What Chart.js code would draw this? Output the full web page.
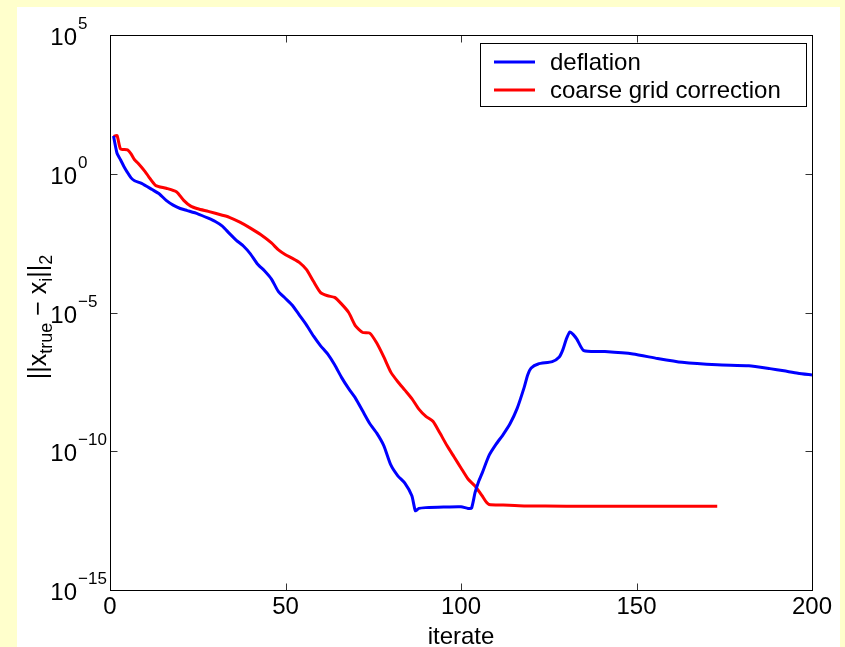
<!DOCTYPE html>
<html>
<head>
<meta charset="utf-8">
<script src="https://cdn.jsdelivr.net/npm/chart.js@4/dist/chart.umd.min.js"></script>
<style>
  html, body { margin: 0; padding: 0; background: #ffffcc; }
  #wrap { width: 845px; height: 647px; position: relative; }
</style>
</head>
<body>
<div id="wrap"><canvas id="c" width="845" height="647"></canvas></div>
<script>
// values (log y axis)
const deflationIter = [1, 2, 3, 4, 5, 6, 7, 9, 12, 14, 16, 18, 20, 22, 25, 28, 30, 32, 34, 36, 38, 40, 42, 44, 46, 48, 50, 52, 54, 56, 58, 60, 62, 64, 66, 68, 70, 72, 74, 76, 78, 80, 82, 84, 86, 87, 88, 90, 95, 100, 102, 103, 104, 105, 106, 108, 110, 112, 114, 116, 118, 119, 120, 122, 126, 128, 129, 130, 131, 132, 133, 135, 141, 149, 156, 163, 173, 182, 188, 192, 196, 200];
const deflation = [2.3e1, 5.5e0, 3.2e0, 1.8e0, 1.1e0, 7.1e-1, 5.6e-1, 4.5e-1, 2.7e-1, 1.9e-1, 1.1e-1, 7.4e-2, 5.6e-2, 4.7e-2, 3.6e-2, 2.5e-2, 1.9e-2, 1.3e-2, 7.1e-3, 4.0e-3, 2.5e-3, 1.3e-3, 5.6e-4, 3.2e-4, 1.6e-4, 5.6e-5, 3.2e-5, 1.8e-5, 7.9e-6, 3.5e-6, 1.4e-6, 6.3e-7, 3.2e-7, 1.3e-7, 4.5e-8, 1.8e-8, 7.9e-9, 2.8e-9, 1.0e-9, 4.5e-10, 1.6e-10, 3.2e-11, 1.3e-11, 7.1e-12, 2.5e-12, 7.2e-13, 8.7e-13, 9.3e-13, 9.8e-13, 1.0e-12, 8.7e-13, 8.9e-13, 3.2e-12, 7.9e-12, 1.6e-11, 7.1e-11, 1.8e-10, 4.0e-10, 1.0e-9, 3.5e-9, 2.0e-8, 5.6e-8, 1.0e-7, 1.4e-7, 1.7e-7, 2.5e-7, 4.5e-7, 1.1e-6, 2.0e-6, 1.6e-6, 1.1e-6, 4.2e-7, 3.9e-7, 3.2e-7, 2.2e-7, 1.6e-7, 1.3e-7, 1.2e-7, 9.5e-8, 7.9e-8, 6.5e-8, 5.6e-8];

const coarseIter = [1, 2, 3, 5, 6, 7, 8, 10, 11, 13, 16, 19, 21, 23, 25, 28, 32, 34, 37, 40, 43, 46, 48, 50, 52, 54, 56, 58, 60, 62, 64, 66, 68, 70, 72, 74, 76, 78, 80, 82, 84, 86, 88, 90, 92, 94, 96, 98, 100, 102, 104, 106, 107, 108, 112, 118, 130, 173];
const coarse = [2.2e1, 2.4e1, 7.9e0, 7.2e0, 5.2e0, 3.2e0, 2.4e0, 1.2e0, 7.9e-1, 3.8e-1, 3.0e-1, 2.2e-1, 1.1e-1, 6.8e-2, 5.5e-2, 4.4e-2, 3.2e-2, 2.7e-2, 1.8e-2, 1.1e-2, 6.3e-3, 3.2e-3, 1.8e-3, 1.2e-3, 8.9e-4, 6.3e-4, 3.5e-4, 1.3e-4, 5.2e-5, 4.0e-5, 3.5e-5, 2.0e-5, 1.0e-5, 3.2e-6, 1.9e-6, 1.8e-6, 7.9e-7, 2.5e-7, 7.1e-8, 3.2e-8, 1.6e-8, 7.9e-9, 3.3e-9, 1.8e-9, 1.2e-9, 4.5e-10, 1.6e-10, 6.3e-11, 2.5e-11, 1.0e-11, 5.6e-12, 2.5e-12, 1.6e-12, 1.2e-12, 1.15e-12, 1.07e-12, 1.05e-12, 1.05e-12];

const seriesNames = ['deflation', 'coarse grid correction'];
const seriesColors = ['#0000ff', '#ff0000'];
const xTicks = [0, 50, 100, 150, 200];
const yTickExps = [5, 0, -5, -10, -15];
const xTitle = 'iterate';

const FONT = '"Liberation Sans", Arial, sans-serif';

function pairs(xs, ys) {
    return xs.map((x, i) => ({ x: x, y: ys[i] }));
}

const decor = {
    id: 'decor',
    beforeDraw(chart) {
        const ctx = chart.ctx;
        ctx.save();
        ctx.fillStyle = '#ffffcc';
        ctx.fillRect(0, 0, chart.width, chart.height);
        ctx.fillStyle = '#ffffff';
        ctx.fillRect(17, 7, 823, 640);
        ctx.restore();
    },
    afterDatasetsDraw(chart) {
        const ctx = chart.ctx;
        const a = chart.chartArea;
        const xs = chart.scales.x;
        const ys = chart.scales.y;
        const L = Math.round(a.left) + 0.5, R = Math.round(a.right) + 0.5;
        const T = Math.round(a.top) + 0.5, B = Math.round(a.bottom) + 0.5;
        ctx.save();

        // inward ticks on all four sides
        ctx.strokeStyle = '#333';
        ctx.lineWidth = 1;
        ctx.beginPath();
        xTicks.forEach(v => {
            const px = Math.round(xs.getPixelForValue(v)) + 0.5;
            ctx.moveTo(px, B); ctx.lineTo(px, B - 7);
            ctx.moveTo(px, T); ctx.lineTo(px, T + 7);
        });
        yTickExps.forEach(e => {
            const py = Math.round(ys.getPixelForValue(Math.pow(10, e))) + 0.5;
            ctx.moveTo(L, py); ctx.lineTo(L + 7, py);
            ctx.moveTo(R, py); ctx.lineTo(R - 7, py);
        });
        ctx.stroke();

        // box
        ctx.strokeStyle = '#000';
        ctx.strokeRect(L, T, R - L, B - T);

        // x tick labels
        ctx.fillStyle = '#000';
        ctx.font = '24px ' + FONT;
        ctx.textAlign = 'center';
        ctx.textBaseline = 'alphabetic';
        xTicks.forEach(v => {
            ctx.fillText(String(v), xs.getPixelForValue(v), 614);
        });
        ctx.fillText(xTitle, (a.left + a.right) / 2, 644);

        // y tick labels 10^e
        yTickExps.forEach(e => {
            const py = ys.getPixelForValue(Math.pow(10, e));
            ctx.font = '24px ' + FONT;
            ctx.textAlign = 'right';
            ctx.fillText('10', 77, py + 10);
            ctx.font = '17px ' + FONT;
            ctx.textAlign = 'left';
            ctx.fillText(String(e).replace('-', '\u2212'), 78, py - 6);
        });

        // y title ||x_true - x_i||_2
        const parts = [
            ['||x', 25, 0], ['true', 18, 6], [' \u2212 x', 25, 0], ['i', 18, 6], ['||', 25, 0], ['2', 18, 6]
        ];
        let total = 0;
        parts.forEach(p => { ctx.font = p[1] + 'px ' + FONT; total += ctx.measureText(p[0]).width; });
        ctx.translate(46, 317);
        ctx.rotate(-Math.PI / 2);
        ctx.textAlign = 'left';
        let cx = -total / 2;
        parts.forEach(p => {
            ctx.font = p[1] + 'px ' + FONT;
            ctx.fillText(p[0], cx, p[2]);
            cx += ctx.measureText(p[0]).width;
        });
        ctx.setTransform(1, 0, 0, 1, 0, 0);

        // legend box
        ctx.fillStyle = '#fff';
        ctx.fillRect(480.5, 43.5, 326, 63);
        ctx.strokeStyle = '#000';
        ctx.strokeRect(480.5, 43.5, 326, 63);
        const rows = [62, 90];
        seriesNames.forEach((name, i) => {
            ctx.strokeStyle = seriesColors[i];
            ctx.lineWidth = 3;
            ctx.beginPath();
            ctx.moveTo(494, rows[i]); ctx.lineTo(535, rows[i]);
            ctx.stroke();
            ctx.fillStyle = '#000';
            ctx.font = '24px ' + FONT;
            ctx.textBaseline = 'middle';
            ctx.fillText(name, 550, rows[i] + 1);
        });
        ctx.restore();
    }
};

new Chart(document.getElementById('c'), {
    type: 'line',
    data: {
        datasets: [
            {
                label: seriesNames[0],
                data: pairs(deflationIter, deflation),
                borderColor: seriesColors[0],
                borderWidth: 3,
                pointRadius: 0,
                tension: 0.2,
                fill: false
            },
            {
                label: seriesNames[1],
                data: pairs(coarseIter, coarse),
                borderColor: seriesColors[1],
                borderWidth: 3,
                pointRadius: 0,
                tension: 0.2,
                fill: false
            }
        ]
    },
    options: {
        responsive: false,
        animation: false,
        devicePixelRatio: 1,
        layout: { padding: { left: 110, top: 35, right: 33, bottom: 57 } },
        plugins: { legend: { display: false }, tooltip: { enabled: false } },
        scales: {
            x: { type: 'linear', min: 0, max: 200, display: false },
            y: { type: 'logarithmic', min: 1e-15, max: 1e5, display: false }
        }
    },
    plugins: [decor]
});
</script>
</body>
</html>
